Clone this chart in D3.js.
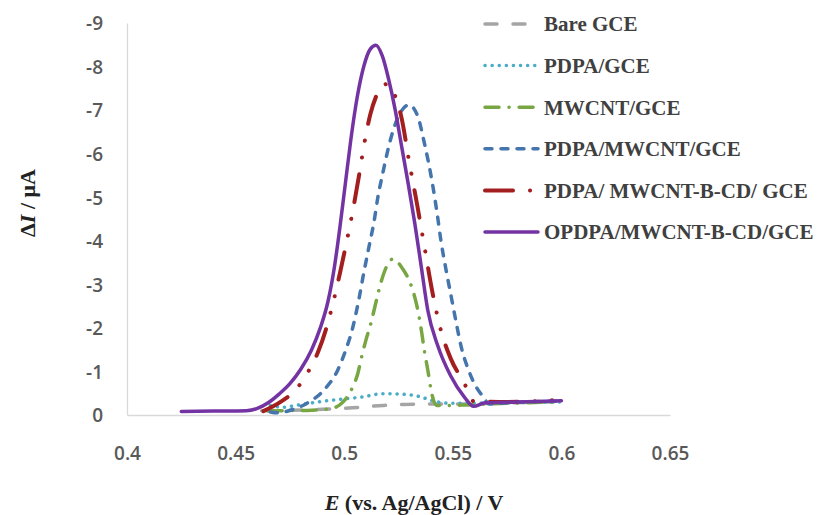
<!DOCTYPE html>
<html>
<head>
<meta charset="utf-8">
<script src="https://cdn.jsdelivr.net/npm/d3@7"></script>
<style>
  html, body { margin: 0; padding: 0; background: #fff; }
  svg { display: block; }
</style>
</head>
<body>
<svg id="chart" width="820" height="515"></svg>
<script>
// ---- data (E in V, ΔI in µA) ----
const xTicks = [0.4, 0.45, 0.5, 0.55, 0.6, 0.65];
const yTicks = [0, -1, -2, -3, -4, -5, -6, -7, -8, -9];
const seriesNames = ["Bare GCE", "PDPA/GCE", "MWCNT/GCE", "PDPA/MWCNT/GCE", "PDPA/ MWCNT-B-CD/ GCE", "OPDPA/MWCNT-B-CD/GCE"];

const bareGCE = [[0.462,-0.10],[0.475,-0.11],[0.49,-0.13],[0.502,-0.16],[0.518,-0.22],[0.534,-0.25],[0.55,-0.25],[0.575,-0.28],[0.6,-0.30]];
const pdpaGCE = [[0.466,-0.22],[0.472,-0.18],[0.48,-0.24],[0.488,-0.30],[0.5,-0.37],[0.508,-0.41],[0.518,-0.49],[0.526,-0.48],[0.534,-0.43],[0.543,-0.30],[0.549,-0.27],[0.575,-0.28],[0.6,-0.30]];
const mwcntGCE = [[0.465,-0.09],[0.475,-0.10],[0.485,-0.11],[0.494,-0.15],[0.4995,-0.30],[0.503,-0.55],[0.5063,-0.96],[0.5081,-1.35],[0.51,-1.72],[0.5123,-2.11],[0.5141,-2.48],[0.516,-2.87],[0.5183,-3.26],[0.5224,-3.58],[0.527,-3.35],[0.531,-2.95],[0.5335,-2.5],[0.5355,-1.95],[0.537,-1.45],[0.5386,-1.0],[0.54,-0.57],[0.5425,-0.22],[0.548,-0.22],[0.556,-0.23],[0.575,-0.27],[0.6,-0.30]];
const pdpaMwcntGCE = [[0.466,-0.07],[0.4693,-0.05],[0.4753,-0.11],[0.4832,-0.28],[0.4906,-0.57],[0.497,-1.03],[0.5007,-1.49],[0.504,-2.02],[0.5067,-2.64],[0.509,-3.26],[0.5114,-3.86],[0.5137,-4.43],[0.5155,-5.0],[0.5178,-5.56],[0.5201,-6.08],[0.5229,-6.59],[0.5261,-6.96],[0.5298,-7.12],[0.534,-6.84],[0.5363,-6.38],[0.5386,-5.85],[0.5409,-5.23],[0.5428,-4.62],[0.5446,-3.98],[0.5469,-3.33],[0.5493,-2.71],[0.5516,-2.11],[0.5539,-1.56],[0.5571,-1.05],[0.5608,-0.64],[0.564,-0.42],[0.5668,-0.25],[0.575,-0.28],[0.6,-0.32]];
const pdpaMwcntBcdGCE = [[0.4628,-0.09],[0.4707,-0.30],[0.478,-0.60],[0.4835,-1.0],[0.488,-1.45],[0.4915,-1.95],[0.495,-2.6],[0.498,-3.25],[0.501,-3.95],[0.504,-4.7],[0.507,-5.55],[0.5095,-6.3],[0.512,-6.9],[0.515,-7.35],[0.5178,-7.58],[0.5205,-7.6],[0.523,-7.38],[0.5265,-6.8],[0.5298,-5.85],[0.5335,-4.85],[0.537,-3.85],[0.5405,-2.85],[0.5445,-1.95],[0.549,-1.3],[0.5553,-0.73],[0.5594,-0.32],[0.575,-0.30],[0.6,-0.35]];
const opdpaMwcntBcdGCE = [[0.425,-0.08],[0.44,-0.09],[0.455,-0.10],[0.46,-0.15],[0.465,-0.28],[0.47,-0.48],[0.475,-0.72],[0.48,-1.05],[0.485,-1.5],[0.489,-2.0],[0.4925,-2.6],[0.4955,-3.4],[0.498,-4.3],[0.5005,-5.3],[0.503,-6.3],[0.506,-7.3],[0.509,-8.0],[0.512,-8.4],[0.5146,-8.49],[0.5175,-8.25],[0.5205,-7.7],[0.5235,-7.0],[0.5265,-6.15],[0.5295,-5.3],[0.5325,-4.4],[0.5355,-3.4],[0.5385,-2.4],[0.543,-1.6],[0.549,-0.9],[0.5555,-0.4],[0.5595,-0.2],[0.565,-0.28],[0.58,-0.30],[0.6,-0.33]];

const seriesData = [bareGCE, pdpaGCE, mwcntGCE, pdpaMwcntGCE, pdpaMwcntBcdGCE, opdpaMwcntBcdGCE];
const seriesColors = ["#a5a5a5", "#4bacc6", "#77a643", "#4575ad", "#a31f1f", "#7433a3"];
const seriesDash = ["12,16", "0.1,7", "14,10,0.1,10", "7,9", "28,17,0.1,17,0.1,17", null];
const seriesWidth = [3.5, 3.5, 3.5, 3.5, 4, 3.5];

// ---- layout ----
const svg = d3.select("#chart");
const x = d3.scaleLinear().domain([0.4, 0.65]).range([127, 670]);
const y = d3.scaleLinear().domain([0, -9]).range([415, 23]);

// axes
const xAxis = svg.append("g").attr("transform", `translate(0,${y(0)})`)
  .call(d3.axisBottom(x).tickValues(xTicks).tickSize(0).tickPadding(0).tickFormat(d => d3.format("")(d)));
xAxis.select(".domain").attr("stroke", "#d9d9d9").attr("stroke-width", 1.3);
xAxis.selectAll("text").attr("dy", null).attr("y", 45)
  .attr("font-family", "'Open Sans', sans-serif").attr("font-size", 19).attr("font-weight", 600)
  .attr("fill", "#595959");

const yAxis = svg.append("g").attr("transform", `translate(${x(0.4)},0)`)
  .call(d3.axisLeft(y).tickValues(yTicks).tickSize(0).tickPadding(0).tickFormat(d => d === 0 ? "0" : "-" + Math.abs(d)));
yAxis.select(".domain").attr("stroke", "#d9d9d9").attr("stroke-width", 1.3);
yAxis.selectAll("text").attr("x", -24).attr("dy", "0.36em")
  .attr("font-family", "'Open Sans', sans-serif").attr("font-size", 19).attr("font-weight", 600)
  .attr("fill", "#595959");

// lines
const line = d3.line().x(d => x(d[0])).y(d => y(d[1])).curve(d3.curveMonotoneX);
svg.append("g").selectAll("path").data(seriesData).join("path")
  .attr("d", line)
  .attr("fill", "none")
  .attr("stroke", (d, i) => seriesColors[i])
  .attr("stroke-width", (d, i) => seriesWidth[i])
  .attr("stroke-dasharray", (d, i) => seriesDash[i])
  .attr("stroke-linecap", "round")
  .attr("stroke-linejoin", "round");

// legend
const legend = svg.append("g");
const rowY = i => 24 + i * 41.6;
seriesNames.forEach((name, i) => {
  legend.append("line")
    .attr("x1", 485).attr("x2", 538).attr("y1", rowY(i)).attr("y2", rowY(i))
    .attr("stroke", seriesColors[i]).attr("stroke-width", seriesWidth[i])
    .attr("stroke-dasharray", seriesDash[i]).attr("stroke-linecap", "round");
  legend.append("text")
    .attr("x", 544).attr("y", rowY(i)).attr("dy", "0.35em")
    .attr("font-family", "'Liberation Serif', 'Times New Roman', serif")
    .attr("font-weight", "bold").attr("font-size", 21).attr("fill", "#404040")
    .text(name);
});

// axis titles
const xt = svg.append("text").attr("x", 414).attr("y", 510).attr("text-anchor", "middle")
  .attr("font-family", "'Liberation Serif', 'Times New Roman', serif").attr("font-weight", "bold")
  .attr("font-size", 22).attr("fill", "#222");
xt.append("tspan").attr("font-style", "italic").text("E");
xt.append("tspan").text(" (vs. Ag/AgCl) / V");

const yt = svg.append("text").attr("transform", "translate(35,203) rotate(-90)").attr("text-anchor", "middle")
  .attr("font-family", "'Liberation Serif', 'Times New Roman', serif").attr("font-weight", "bold")
  .attr("font-size", 22).attr("fill", "#222");
yt.append("tspan").text("Δ");
yt.append("tspan").attr("font-style", "italic").text("I");
yt.append("tspan").text(" / μA");
</script>
</body>
</html>
